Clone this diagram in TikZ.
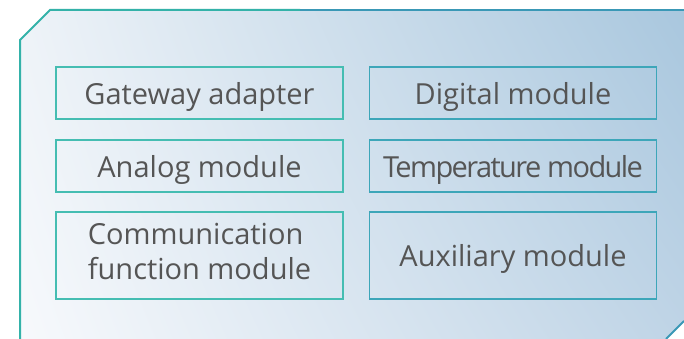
\documentclass[tikz,border=0pt]{standalone}
\usepackage{fontspec}
\setmainfont{Open Sans}
\usetikzlibrary{positioning,shadings}
\definecolor{panelA}{HTML}{EEF3F8}
\definecolor{panelB}{HTML}{A9C7DE}
\definecolor{panelC}{HTML}{F7F9FC}
\definecolor{panelD}{HTML}{BFD4E6}
\definecolor{edgeteal}{HTML}{34B2A9}
\definecolor{edgeblue}{HTML}{3A98B6}
\definecolor{boxteal}{HTML}{45BDB2}
\definecolor{boxblue}{HTML}{3DA6B9}
\definecolor{labelgray}{HTML}{555555}

\begin{document}
\begin{tikzpicture}[x=1pt, y=-1pt,
    module/.style={draw, line width=1.3pt, minimum width=287pt, minimum height=52pt,
        inner sep=0pt, text depth=0pt, text=labelgray, font=\fontsize{29}{35}\selectfont},
    leftmod/.style={module, draw=boxteal},
    rightmod/.style={module, draw=boxblue}]
    \useasboundingbox (0,0) rectangle (684,339);
    \shade[upper left=panelA, upper right=panelB, lower left=panelC, lower right=panelD]
        (20,40) -- (50,10) -- (684,10) -- (684,321) -- (666,339) -- (20,339) -- cycle;
    \draw[edgeteal, line width=2pt] (20,339) -- (20,40) -- (50,10) -- (300,10);
    \draw[edgeblue, line width=2pt] (300,10) -- (684,10);
    \draw[edgeblue, line width=2pt] (684,321) -- (666,339);
    \node[leftmod] (gateway) at (199.5,93) {Gateway adapter};
    \node[leftmod] (analog) at (199.5,166) {Analog module};
    \node[leftmod, minimum height=87pt, text depth=8pt, align=left] (comm) at (199.5,255.5) {Communication\\function module};
    \node[rightmod] (digital) at (513,93) {Digital module};
    \node[rightmod] (temp) at (513,166) {\addfontfeature{LetterSpace=-5.5}Temperature module};
    \node[rightmod, minimum height=87pt] (aux) at (513,255.5) {Auxiliary module};
\end{tikzpicture}
\end{document}
